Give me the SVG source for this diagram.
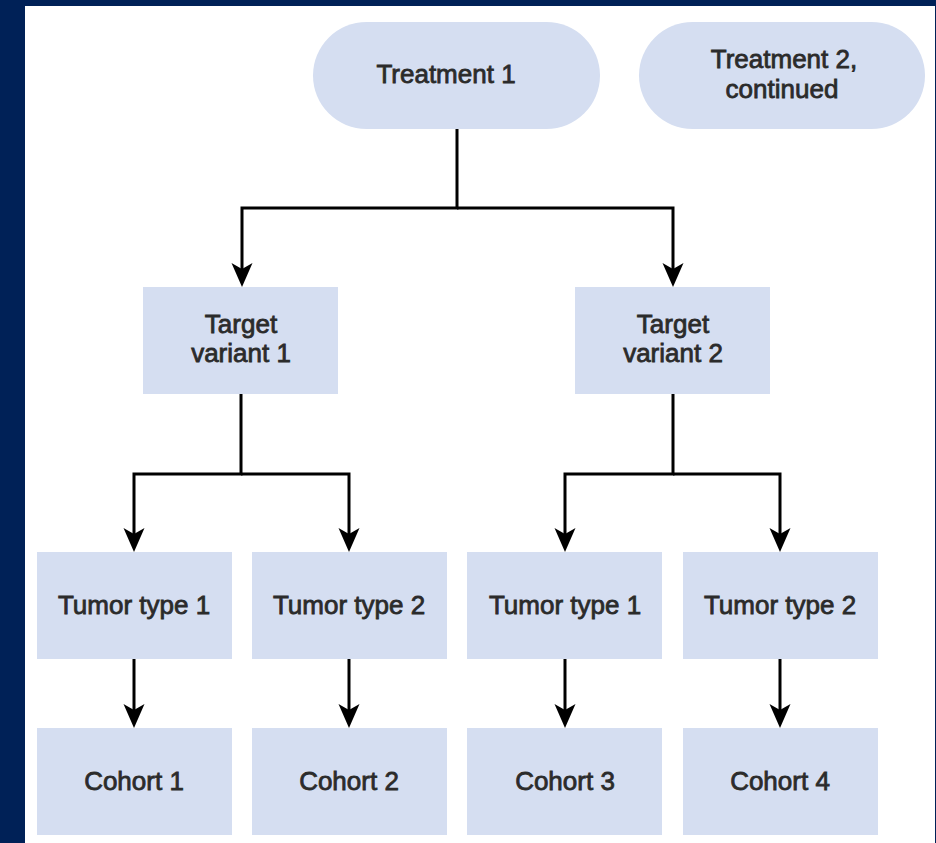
<svg xmlns="http://www.w3.org/2000/svg" width="936" height="843" viewBox="0 0 936 843">
<style>
.box{fill:#D5DEF1}
.t{font-family:"Liberation Sans",Arial,Helvetica,sans-serif;font-size:26px;fill:#2b2b2b;stroke:#2b2b2b;stroke-width:0.8;text-anchor:middle}
.c{fill:none;stroke:#000;stroke-width:3;marker-end:url(#ah)}
</style>
<defs>
<marker id="ah" markerUnits="userSpaceOnUse" markerWidth="30" markerHeight="30" viewBox="-26 -12 30 24" refX="-7" refY="0" orient="auto">
<path d="M0,0 L-24,-10.5 L-18,0 L-24,10.5 Z" fill="#000"/>
</marker>
</defs>
<rect x="0" y="0" width="936" height="843" fill="#002157"/>
<rect x="25" y="6" width="910" height="837" fill="#fff"/>
<g id="connectors">
<path class="c" d="M457,129 V208 H242 V280"/>
<path class="c" d="M457,208 H673 V280"/>
<path class="c" d="M241,394 V474 H134 V545"/>
<path class="c" d="M241,474 H349 V545"/>
<path class="c" d="M673,394 V474 H565 V545"/>
<path class="c" d="M673,474 H780 V545"/>
<path class="c" d="M134,659 V721"/>
<path class="c" d="M349,659 V721"/>
<path class="c" d="M565,659 V721"/>
<path class="c" d="M780,659 V721"/>
</g>
<g id="treatment1"><rect class="box" x="313" y="22" width="287" height="107" rx="53.5"/><text class="t" x="446" y="83">Treatment 1</text></g>
<g id="treatment2"><rect class="box" x="639" y="22" width="286" height="107" rx="53.5"/><text class="t" x="784" y="68">Treatment 2,</text><text class="t" x="782" y="98">continued</text></g>
<g id="target1"><rect class="box" x="143" y="287" width="195" height="107"/><text class="t" x="241" y="333">Target</text><text class="t" x="241" y="362">variant 1</text></g>
<g id="target2"><rect class="box" x="575" y="287" width="195" height="107"/><text class="t" x="673" y="333">Target</text><text class="t" x="673" y="362">variant 2</text></g>
<g id="tumor1a"><rect class="box" x="37" y="552" width="195" height="107"/><text class="t" x="134" y="614">Tumor type 1</text></g>
<g id="tumor2a"><rect class="box" x="252" y="552" width="195" height="107"/><text class="t" x="349" y="614">Tumor type 2</text></g>
<g id="tumor1b"><rect class="box" x="467" y="552" width="195" height="107"/><text class="t" x="565" y="614">Tumor type 1</text></g>
<g id="tumor2b"><rect class="box" x="683" y="552" width="195" height="107"/><text class="t" x="780" y="614">Tumor type 2</text></g>
<g id="cohort1"><rect class="box" x="37" y="728" width="195" height="107"/><text class="t" x="134" y="790">Cohort 1</text></g>
<g id="cohort2"><rect class="box" x="252" y="728" width="195" height="107"/><text class="t" x="349" y="790">Cohort 2</text></g>
<g id="cohort3"><rect class="box" x="467" y="728" width="195" height="107"/><text class="t" x="565" y="790">Cohort 3</text></g>
<g id="cohort4"><rect class="box" x="683" y="728" width="195" height="107"/><text class="t" x="780" y="790">Cohort 4</text></g>
</svg>
